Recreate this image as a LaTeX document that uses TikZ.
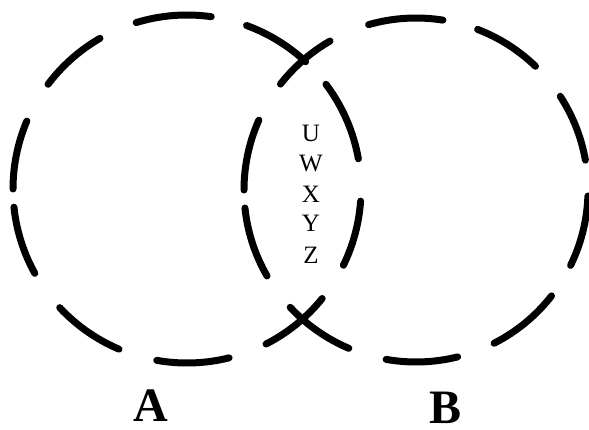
\documentclass[tikz,border=0pt]{standalone}
\usepackage{fontspec}
\setmainfont{Liberation Serif}
\begin{document}
\begin{tikzpicture}[x=1pt,y=1pt,
  ring/.style={line width=7pt,line cap=round,black},
  inner/.style={font=\fontsize{25}{25}\selectfont,anchor=base,inner sep=0pt},
  setlabel/.style={font=\fontsize{48}{48}\selectfont\bfseries,anchor=base,inner sep=0pt}]
\useasboundingbox (0,0) rectangle (589,429);
\fill[white] (0,0) rectangle (589,429);
\coordinate (cA) at (187,240);
\coordinate (cB) at (416,239);
\foreach \a/\b in {82/107,120/143,157/180,186/209,223/247,260/284,297/321,334/356,10/37,47/70}{
  \draw[ring] ([shift={(\a:174)}]cA) arc[start angle=\a,end angle=\b,radius=174];
}
\foreach \a/\b in {81/106,46/69,10/33,334/358,297/322,260/284,223/247,186/210,156/180,120/142}{
  \draw[ring] ([shift={(\a:172)}]cB) arc[start angle=\a,end angle=\b,radius=172];
}
\node[inner] (u) at (311,287) {U};
\node[inner] (w) at (311,257) {W};
\node[inner] (x) at (311,226) {X};
\node[inner] (y) at (311,197) {Y};
\node[inner] (z) at (311,166) {Z};
\node[setlabel] (la) at (151,8) {A};
\node[setlabel] (lb) at (446,6) {B};
\end{tikzpicture}
\end{document}
